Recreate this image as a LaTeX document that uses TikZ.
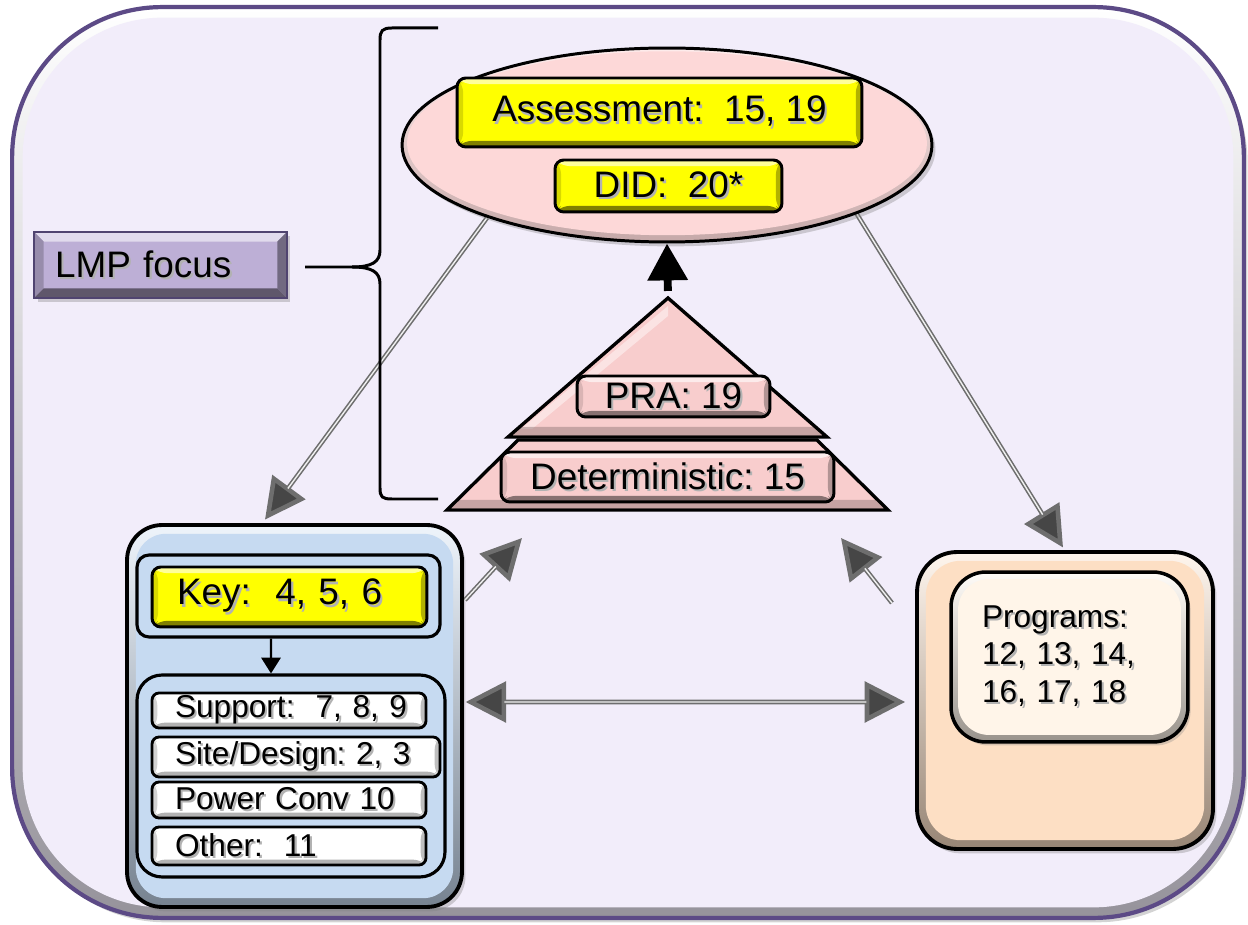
\documentclass[tikz,border=0pt]{standalone}
\usepackage{fontspec}
\setmainfont{Liberation Sans}
\usetikzlibrary{arrows.meta,shapes.geometric,shadows,calc}
\frenchspacing
\definecolor{bgl}{RGB}{242,237,250}
\definecolor{frm}{RGB}{92,74,134}
\definecolor{lmpc}{RGB}{189,175,214}
\definecolor{lmpd}{RGB}{80,68,112}
\definecolor{pinkc}{RGB}{253,216,216}
\definecolor{pinkb}{RGB}{248,205,205}
\definecolor{ylw}{RGB}{255,255,0}
\definecolor{bluec}{RGB}{198,218,241}
\definecolor{peach}{RGB}{253,223,196}
\definecolor{cream}{RGB}{255,245,233}
\definecolor{arrg}{RGB}{110,110,110}
\definecolor{arrh}{RGB}{70,70,70}
% text with a soft offset shadow
\newcommand\tsh[1]{\mbox{\makebox[0pt][l]{\hspace{1.2pt}\raisebox{-1.2pt}{\color{black!30}#1}}#1}}
\pgfdeclarelayer{backdrop}
\pgfdeclarelayer{links}
\pgfsetlayers{backdrop,links,main}
\tikzset{
  % bevelled edges: top, left, right, bottom colours and bevel size
  bevel/.style n args={5}{path picture={
    \fill[#1] (path picture bounding box.north west) -- (path picture bounding box.north east)
      -- ([xshift=-#5,yshift=-#5]path picture bounding box.north east)
      -- ([xshift=#5,yshift=-#5]path picture bounding box.north west) -- cycle;
    \fill[#2] (path picture bounding box.north west) -- (path picture bounding box.south west)
      -- ([xshift=#5,yshift=#5]path picture bounding box.south west)
      -- ([xshift=#5,yshift=-#5]path picture bounding box.north west) -- cycle;
    \fill[#3] (path picture bounding box.north east) -- (path picture bounding box.south east)
      -- ([xshift=-#5,yshift=#5]path picture bounding box.south east)
      -- ([xshift=-#5,yshift=-#5]path picture bounding box.north east) -- cycle;
    \fill[#4] (path picture bounding box.south west) -- (path picture bounding box.south east)
      -- ([xshift=-#5,yshift=#5]path picture bounding box.south east)
      -- ([xshift=#5,yshift=#5]path picture bounding box.south west) -- cycle;
  }},
  % soft rim: shaded border band with a flat inset face
  rim/.style n args={3}{top color=#1!30!white, bottom color=#1!60!black, path picture={
    \fill[#1, rounded corners=#3] ([xshift=#2,yshift=-#2]path picture bounding box.north west)
      rectangle ([xshift=-#2,yshift=#2]path picture bounding box.south east);}},
  shade3d/.style={drop shadow={opacity=0.35, shadow xshift=2pt, shadow yshift=-2.5pt}},
}
\begin{document}
\begin{tikzpicture}[x=0.02cm, y=-0.02cm,
  bx/.style={draw=black, line width=1.7pt, inner sep=0pt, font=\fontsize{21}{25}\selectfont},
  ybox/.style={bx, fill=ylw, rounded corners=5pt,
    bevel={ylw!40!white}{ylw!85!black}{ylw!70!black}{ylw!50!black}{3.5pt}},
  pbox/.style={bx, fill=pinkb, rounded corners=5pt,
    bevel={pinkb!40!white}{pinkb!88!black}{pinkb!72!black}{pinkb!55!black}{3.5pt}},
  item/.style={draw=black, line width=1.6pt, rounded corners=4pt, fill=white,
    inner ysep=0pt, inner xsep=0.46cm, text width=#1, align=left,
    font=\fontsize{18}{21}\selectfont,
    bevel={white}{gray!35}{gray!50}{gray!60}{3pt}},
  panel/.style={draw=black, line width=2.2pt, inner sep=0pt},
  gline/.style={draw=arrg, line width=2.6pt},
  gcore/.style={draw=white!88!gray, line width=0.8pt},
  garr/.style={-{Triangle[length=23pt, width=23pt, fill=arrh]}},
  garrb/.style={{Triangle[length=23pt, width=23pt, fill=arrh]}-{Triangle[length=23pt, width=23pt, fill=arrh]}},
]
\useasboundingbox (0,0) rectangle (1248,925);

% outer frame
\begin{pgfonlayer}{backdrop}
\node[draw=frm, line width=2.4pt, rounded corners=3cm, minimum width=24.64cm,
  minimum height=18.22cm, inner sep=0pt, top color=white, bottom color=bgl!62!black,
  path picture={\fill[bgl, rounded corners=2.8cm]
    ([xshift=6pt,yshift=-6pt]path picture bounding box.north west)
    rectangle ([xshift=-6pt,yshift=6pt]path picture bounding box.south east);},
  shade3d] (frame) at (628,462.5) {};
\end{pgfonlayer}

% brace grouping the assessment layers
\coordinate (bt) at (438,28);
\coordinate (bb) at (438,499);
\coordinate (btip) at (305,267);
\draw[line width=1.7pt] (bt) -- (392,28) .. controls (382,28) and (380,31) .. (380,40)
  -- (380,250) .. controls (380,262) and (372,267) .. (352,267) -- (btip);
\draw[line width=1.7pt] (352,267) .. controls (372,267) and (380,272) .. (380,284)
  -- (380,488) .. controls (380,497) and (382,499) .. (392,499) -- (bb);

% focus label
\node[draw=lmpd, line width=0.8pt, fill=lmpc, minimum width=5.06cm, minimum height=1.32cm,
  inner xsep=0.42cm, text width=4.22cm, align=left, font=\fontsize{21}{25}\selectfont,
  bevel={lmpc!45!white}{lmpc!80!black}{lmpc!60!black}{lmpc!50!black}{5.5pt}, shade3d]
  (lmp) at (160.5,265) {\tsh{LMP focus}};

% assessment ellipse
\node[ellipse, draw=black, line width=1.7pt, minimum width=10.6cm, minimum height=3.88cm,
  inner sep=0pt, top color=pinkc!50!white, bottom color=pinkc!78!black,
  path picture={\fill[pinkc] ([yshift=1pt]path picture bounding box.center)
    ellipse [x radius=5.2cm, y radius=1.84cm];}, shade3d] (ell) at (667,145) {};
\node[ybox, minimum width=8.1cm, minimum height=1.38cm] (asm) at (659.5,112.5) {\tsh{Assessment:\ \ 15, 19}};
\node[ybox, minimum width=4.54cm, minimum height=1.04cm] (did) at (668.5,186) {\tsh{DID:\ \ 20*}};

% pyramid
\coordinate (apex) at (668,298);
\fill[pinkb] (447,510) -- (888,510) -- (817,440) -- (518,440) -- cycle;
\fill[pinkb!60!black, opacity=0.5] (449,508) -- (886,508) -- (878,500) -- (457,500) -- cycle;
\draw[line width=1.9pt, line join=miter] (447,510) -- (888,510) -- (817,440) -- (518,440) -- cycle;
\fill[pinkb] (508,437) -- (827,437) -- (apex) -- cycle;
\fill[white, opacity=0.45] (521,429) -- (668,306) -- (668,316) -- (532,429) -- cycle;
\fill[pinkb!60!black, opacity=0.5] (510,435) -- (825,435) -- (815.6,427) -- (519.5,427) -- cycle;
\draw[line width=1.9pt, line join=miter] (508,437) -- (827,437) -- (apex) -- cycle;
\node[pbox, minimum width=3.86cm, minimum height=0.82cm] (pra) at (673.5,396.5) {\tsh{PRA: 19}};
\node[pbox, minimum width=6.66cm, minimum height=1.0cm] (det) at (667.5,477) {\tsh{Deterministic: 15}};
\draw[line width=4.5pt, -{Triangle[length=21pt,width=22pt]}, shorten <=4pt] (apex) -- (ell.south);

% key elements panel
\node[panel, rounded corners=0.7cm, minimum width=6.7cm, minimum height=7.64cm,
  rim={bluec}{5pt}{0.6cm}, shade3d] (lbox) at (294.5,716) {};
\node[draw=black, line width=1.8pt, fill=bluec, rounded corners=0.24cm, minimum width=6.06cm,
  minimum height=1.64cm, inner sep=0pt] (keyc) at (288.5,596) {};
\node[ybox, minimum width=5.5cm, minimum height=1.2cm, inner xsep=0.5cm, text width=4.5cm,
  align=left] (key) at (289.5,597) {\tsh{Key:\ \ 4, 5, 6}};
\node[draw=black, line width=1.8pt, fill=bluec, rounded corners=0.5cm, minimum width=6.16cm,
  minimum height=4.04cm, inner sep=0pt] (list) at (291,776) {};
\node[item=4.56cm, minimum height=0.7cm] (sup) at (289,710.5) {\tsh{Support:\ \ 7, 8, 9}};
\node[item=4.84cm, minimum height=0.8cm] (site) at (296,757) {\tsh{Site/Design: 2, 3}};
\node[item=4.56cm, minimum height=0.72cm] (pow) at (289,800) {\tsh{Power Conv 10}};
\node[item=4.56cm, minimum height=0.76cm] (oth) at (289,846) {\tsh{Other:\ \ 11}};
\draw[line width=1.3pt, -{Triangle[length=9pt,width=11pt]}]
  ([xshift=-0.35cm]keyc.south) -- ([xshift=-0.4cm]list.north);

% programs panel
\node[panel, rounded corners=0.8cm, minimum width=5.92cm, minimum height=5.94cm,
  rim={peach}{5pt}{0.7cm}, shade3d] (rbox) at (1065,700.5) {};
\node[panel, line width=2pt, rounded corners=0.7cm, minimum width=4.74cm, minimum height=3.4cm,
  rim={cream}{4pt}{0.62cm}, inner xsep=0.62cm, text width=3.5cm, align=left,
  font=\fontsize{18}{21.5}\selectfont,
  drop shadow={opacity=0.3, shadow xshift=1.5pt, shadow yshift=-2pt}]
  (prog) at (1069.5,657) {\tsh{Programs:}\\\tsh{12, 13, 14,}\\\tsh{16, 17, 18}};

% connectors
\coordinate (s3) at (465,600);
\coordinate (t3) at (522,538);
\coordinate (s4) at (892,603);
\coordinate (t4) at (841,538);
\begin{pgfonlayer}{links}
\draw[gline, garr] (ell.202) -- ([xshift=-0.59cm,yshift=2pt]lbox.north);
\draw[gcore, shorten >=22pt] (ell.202) -- ([xshift=-0.59cm,yshift=2pt]lbox.north);
\draw[gline, garr] (ell.340) -- ([xshift=-0.04cm,yshift=1.5pt]rbox.north);
\draw[gcore, shorten >=22pt] (ell.340) -- ([xshift=-0.04cm,yshift=1.5pt]rbox.north);
\draw[gline, garr] (s3) -- (t3);
\draw[gcore, shorten >=22pt] (s3) -- (t3);
\draw[gline, garr] (s4) -- (t4);
\draw[gcore, shorten >=22pt] (s4) -- (t4);
\draw[gline, garrb] ([xshift=1pt,yshift=0.28cm]lbox.east) -- ([xshift=-0.2cm,yshift=-0.03cm]rbox.west);
\draw[gcore, shorten >=22pt, shorten <=22pt] ([xshift=1pt,yshift=0.28cm]lbox.east) -- ([xshift=-0.2cm,yshift=-0.03cm]rbox.west);
\end{pgfonlayer}
\end{tikzpicture}
\end{document}
